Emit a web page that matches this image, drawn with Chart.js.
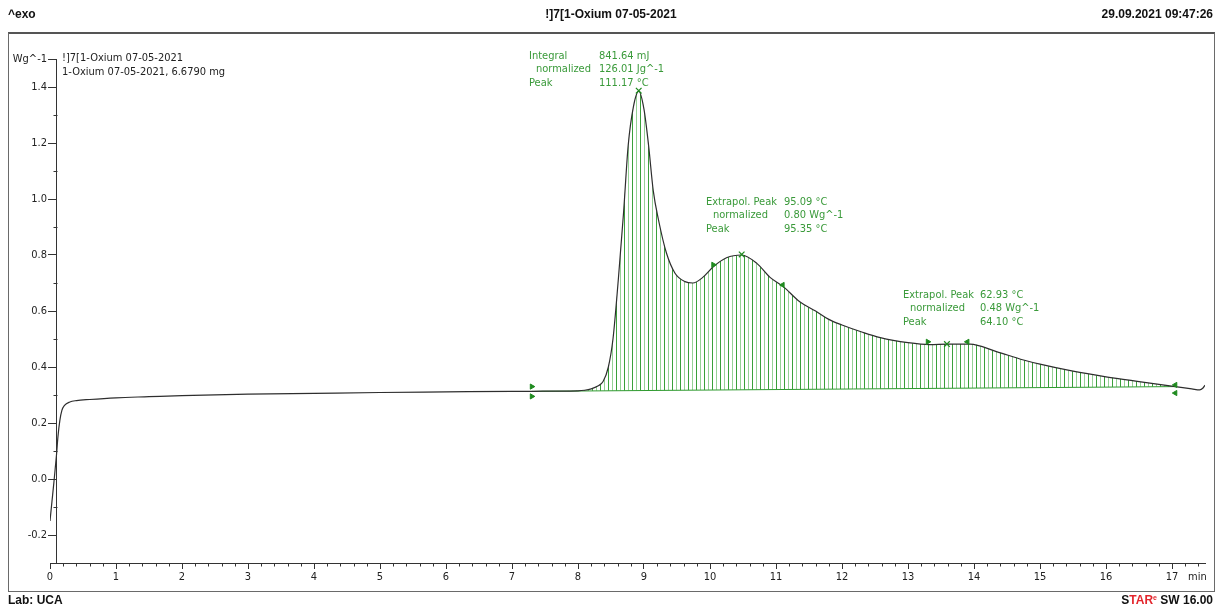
<!DOCTYPE html>
<html><head><meta charset="utf-8">
<script src="https://cdn.jsdelivr.net/npm/chart.js@4.4.1/dist/chart.umd.min.js"></script>
<style>
body{margin:0;background:#fff;}
#wrap{position:relative;width:1216px;height:608px;overflow:hidden;font-family:"Liberation Sans",Arial,sans-serif;}
canvas{position:absolute;left:0;top:0;}
.frame{position:absolute;left:8px;top:32px;width:1207px;height:560px;border:1px solid #6a6a6a;border-top:2px solid #555;box-sizing:border-box;pointer-events:none;}
.t{position:absolute;font-weight:bold;font-size:12px;color:#111;white-space:nowrap;line-height:14px;}
.red{color:#e3262d;}
</style></head><body>
<div id="wrap">
<canvas id="c" width="1216" height="608"></canvas>
<div class="frame"></div>
<div class="t" style="left:8px;top:7px">^exo</div>
<div class="t" style="left:611px;top:7px;transform:translateX(-50%)">!]7[1-Oxium 07-05-2021</div>
<div class="t" style="right:3px;top:7px">29.09.2021 09:47:26</div>
<div class="t" style="left:8px;top:593px">Lab: UCA</div>
<div class="t" style="right:3px;top:593px">S<span class="red">TAR</span><span class="red" style="font-size:7px;position:relative;top:-4px">e</span> SW 16.00</div>
</div>
<script>
// ---- data ----
const timeMin = [0, 0.03, 0.06, 0.08, 0.1, 0.12, 0.15, 0.18, 0.22, 0.3, 0.4, 0.6, 1, 1.5, 2, 3, 4, 5, 6, 7, 7.3, 7.6, 8.0, 8.1, 8.2, 8.3, 8.38, 8.46, 8.53, 8.61, 8.69, 8.76, 8.84, 8.92, 9.0, 9.07, 9.14, 9.22, 9.34, 9.47, 9.62, 9.74, 9.89, 10.05, 10.25, 10.48, 10.71, 10.91, 11.11, 11.36, 11.6, 11.8, 12.0, 12.3, 12.58, 13.0, 13.33, 13.6, 13.94, 14.34, 14.75, 15.0, 15.5, 16.0, 16.5, 17.05, 17.3, 17.42, 17.47, 17.5];
const heatFlow = [-0.15, -0.08, -0.01, 0.04, 0.09, 0.15, 0.21, 0.245, 0.263, 0.275, 0.28, 0.284, 0.29, 0.294, 0.298, 0.303, 0.306, 0.309, 0.311, 0.313, 0.313, 0.314, 0.315, 0.317, 0.322, 0.332, 0.348, 0.40, 0.50, 0.71, 0.95, 1.19, 1.33, 1.385, 1.32, 1.19, 1.03, 0.925, 0.807, 0.735, 0.705, 0.70, 0.72, 0.758, 0.79, 0.80, 0.77, 0.72, 0.687, 0.633, 0.60, 0.57, 0.55, 0.525, 0.505, 0.487, 0.48, 0.482, 0.482, 0.455, 0.425, 0.41, 0.385, 0.365, 0.348, 0.33, 0.322, 0.318, 0.325, 0.335];
const baselineTime = [7.3, 17.05];
const baselineFlow = [0.313, 0.330];
const peakTime = [8.92, 10.48, 13.59];
const peakFlow = [1.387, 0.802, 0.482];
const limitTime = [7.3, 7.3, 17.05, 17.05, 10.05, 11.1, 13.3, 13.9];
const limitFlow = [0.330, 0.295, 0.336, 0.307, 0.765, 0.693, 0.490, 0.490];
const limitPointsRight = [true, true, false, false, true, false, true, false];
const xTickValues = [0,1,2,3,4,5,6,7,8,9,10,11,12,13,14,15,16,17];
const yTickValues = [-0.2,0.0,0.2,0.4,0.6,0.8,1.0,1.2,1.4];
const yUnitValue = 1.5;
const yUnitLabel = 'Wg^-1';
const yAxisAtTime = 0.1;
const xUnitLabel = 'min';
const sampleLines = ['!]7[1-Oxium 07-05-2021', '1-Oxium 07-05-2021, 6.6790 mg'];
const peak1Labels = ['Integral', '  normalized', 'Peak'];
const peak1Values = ['841.64 mJ', '126.01 Jg^-1', '111.17 °C'];
const peak2Labels = ['Extrapol. Peak', '  normalized', 'Peak'];
const peak2Values = ['95.09 °C', '0.80 Wg^-1', '95.35 °C'];
const peak3Labels = ['Extrapol. Peak', '  normalized', 'Peak'];
const peak3Values = ['62.93 °C', '0.48 Wg^-1', '64.10 °C'];

// ---- styling ----
const FONT = "'DejaVu Sans Condensed', 'Liberation Sans', Arial, sans-serif";
const GREEN = '#3a9a3a';
const MARK = '#1f8a1f';
const near = (a, b) => Math.abs(a - b) < 1e-6;
const isXMajor = v => xTickValues.some(t => near(t, v));
const isYMajor = v => yTickValues.some(t => near(t, v)) || near(v, yUnitValue);

const curvePts = timeMin.map((t, i) => ({x: t, y: heatFlow[i]}));
const hatchPts = curvePts.filter(p => p.x >= baselineTime[0] - 1e-9 && p.x <= baselineTime[1] + 1e-9);
const basePts = baselineTime.map((t, i) => ({x: t, y: baselineFlow[i]}));
const peakPts = peakTime.map((t, i) => ({x: t, y: peakFlow[i]}));
const limitPts = limitTime.map((t, i) => ({x: t, y: limitFlow[i]}));

const ctx = document.getElementById('c').getContext('2d');
const pc = document.createElement('canvas'); pc.width = 8; pc.height = 1;
const pctx = pc.getContext('2d');
pctx.fillStyle = 'rgb(58,160,58)'; pctx.fillRect(0, 0, 1, 1);
pctx.fillStyle = 'rgb(150,210,150)'; pctx.fillRect(4, 0, 1, 1);
const hatch = ctx.createPattern(pc, 'repeat');

const textPlugin = {
  id: 'texts',
  afterDraw(chart) {
    const c = chart.ctx, xs = chart.scales.x, ys = chart.scales.y;
    c.save();
    // minor ticks
    c.strokeStyle = '#333'; c.lineWidth = 1;
    const axX = Math.round(xs.getPixelForValue(yAxisAtTime)) + 0.5;
    ys.ticks.forEach(t => {
      if (isYMajor(t.value)) return;
      const py = Math.round(ys.getPixelForValue(t.value)) + 0.5;
      c.beginPath(); c.moveTo(axX - 4, py); c.lineTo(axX, py); c.stroke();
    });
    const axY = Math.round(chart.chartArea.bottom) + 0.5;
    xs.ticks.forEach(t => {
      if (isXMajor(t.value)) return;
      const px = Math.round(xs.getPixelForValue(t.value)) + 0.5;
      c.beginPath(); c.moveTo(px, axY); c.lineTo(px, axY + 3); c.stroke();
    });
    c.font = '11px ' + FONT;
    c.textBaseline = 'middle';
    c.fillStyle = '#222';
    c.fillText(xUnitLabel, 1188, 577);
    c.fillText(sampleLines[0], 62, 58);
    c.fillText(sampleLines[1], 62, 72);
    c.fillStyle = GREEN;
    const block = (labels, values, lx, vx, y0) => {
      labels.forEach((l, i) => {
        const y = y0 + i * 13.5;
        const trimmed = l.replace(/^\s+/, '');
        c.fillText(trimmed, lx + (trimmed !== l ? 7 : 0), y);
        c.fillText(values[i], vx, y);
      });
    };
    block(peak1Labels, peak1Values, 529, 599, 56);
    block(peak2Labels, peak2Values, 706, 784, 202);
    block(peak3Labels, peak3Values, 903, 980, 295);
    c.restore();
  }
};

const yTicksCommon = {stepSize: 0.1, autoSkip: false, includeBounds: false};

new Chart(ctx, {
  type: 'line',
  data: {
    datasets: [
      {data: curvePts, borderColor: '#2e2e2e', borderWidth: 1.2, pointRadius: 0, cubicInterpolationMode: 'monotone', fill: false, order: 1},
      {data: peakPts, showLine: false, pointStyle: 'crossRot', pointRadius: 4, pointBorderWidth: 1.2, borderColor: MARK, backgroundColor: MARK, order: 0},
      {data: limitPts, showLine: false, pointStyle: 'triangle', pointRadius: 3, pointRotation: limitPointsRight.map(r => r ? 90 : -90), borderColor: MARK, backgroundColor: MARK, borderWidth: 1, order: 0},
      {data: basePts, borderColor: '#2f9a2f', borderWidth: 1, pointRadius: 0, fill: false, order: 2},
      {data: hatchPts, borderWidth: 0, borderColor: 'rgba(0,0,0,0)', pointRadius: 0, cubicInterpolationMode: 'monotone', fill: 3, backgroundColor: hatch, order: 3}
    ]
  },
  options: {
    responsive: false, animation: false, devicePixelRatio: 1,
    layout: {padding: {left: 0, right: 11, top: 59, bottom: 25}},
    plugins: {legend: {display: false}, tooltip: {enabled: false}},
    events: [],
    scales: {
      x: {
        type: 'linear', min: 0, max: 17.5, position: 'bottom',
        afterFit(s) { s.height = 20; },
        border: {color: '#333', width: 1},
        grid: {drawOnChartArea: false, tickLength: 6, color: c => (c.tick && isXMajor(c.tick.value)) ? '#333' : 'rgba(0,0,0,0)'},
        ticks: {stepSize: 0.2, autoSkip: false, maxRotation: 0, includeBounds: false, padding: 2, color: '#222', font: {family: FONT, size: 11},
          callback: v => isXMajor(v) ? String(Math.round(v)) : ''}
      },
      // labels of the heat-flow axis (box of fixed width at the left of the plot)
      y: {
        type: 'linear', min: -0.3, max: 1.5, position: 'left',
        afterFit(s) { s.width = 50; },
        border: {display: false},
        grid: {display: false, drawTicks: false, drawOnChartArea: false},
        ticks: Object.assign({}, yTicksCommon, {padding: 3, color: '#222', font: {family: FONT, size: 11},
          callback: v => near(v, yUnitValue) ? yUnitLabel : (yTickValues.some(t => near(t, v)) ? v.toFixed(1) : '')})
      },
      // the axis line and tick marks, placed at t = 0.1 min
      yLine: {
        type: 'linear', axis: 'y', min: -0.3, max: 1.5, position: {x: yAxisAtTime},
        border: {color: '#333', width: 1},
        grid: {drawOnChartArea: false, tickLength: 8, color: c => (c.tick && isYMajor(c.tick.value)) ? '#333' : 'rgba(0,0,0,0)'},
        ticks: Object.assign({}, yTicksCommon, {display: false})
      }
    }
  },
  plugins: [textPlugin]
});
</script>
</body></html>
